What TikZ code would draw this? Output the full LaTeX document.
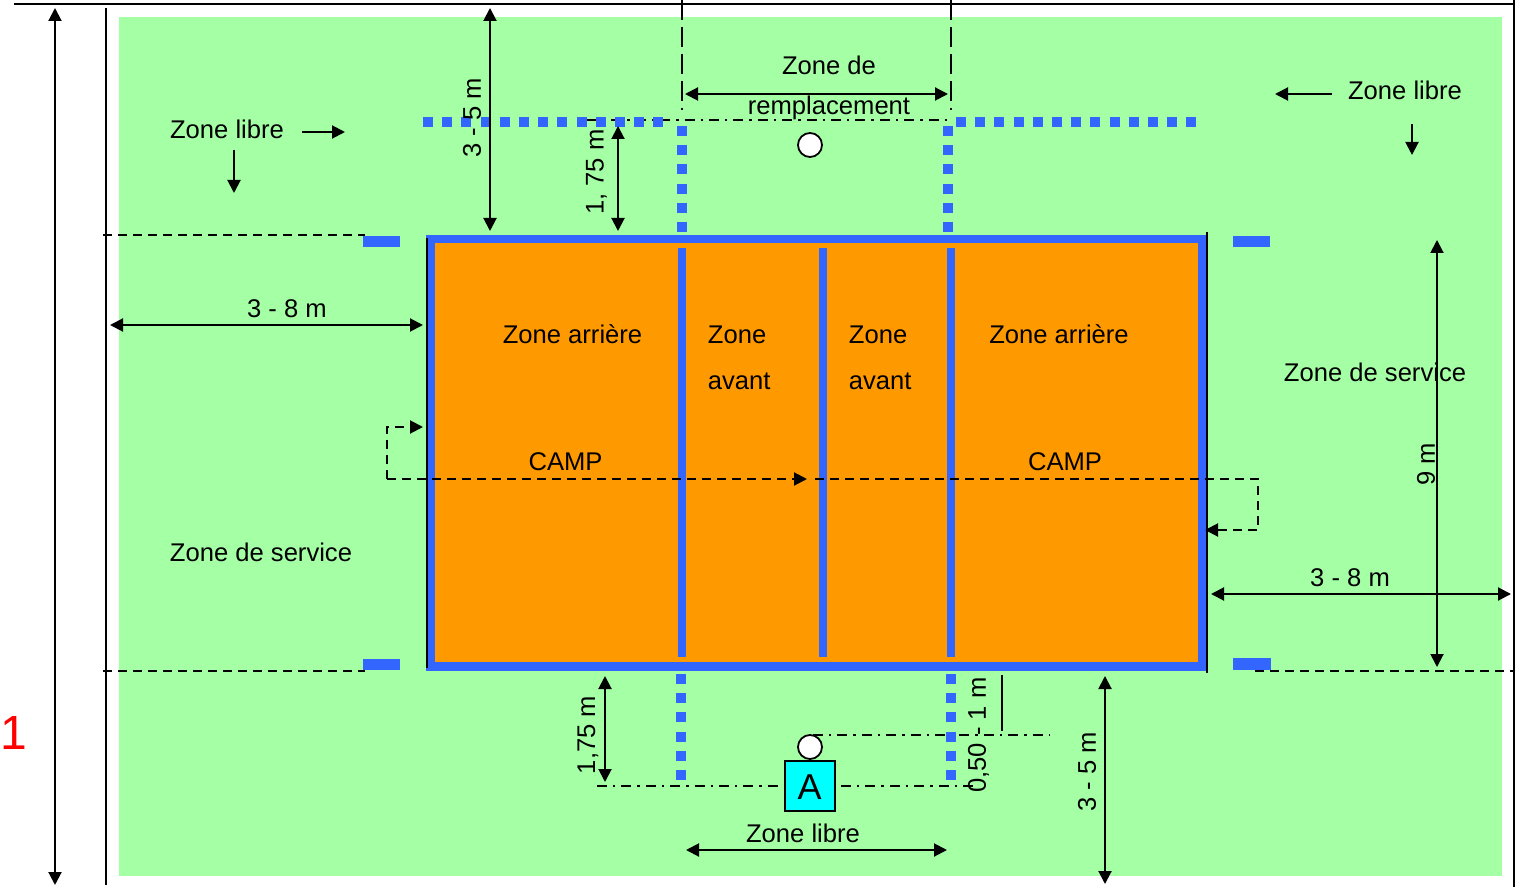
\documentclass[tikz,border=0pt]{standalone}
\usepackage{fontspec}
\setmainfont{Liberation Sans}
\usetikzlibrary{arrows.meta}
\definecolor{fieldgreen}{HTML}{A5FFA5}
\definecolor{courtorange}{HTML}{FF9900}
\definecolor{lineblue}{HTML}{3366FF}
\definecolor{boxcyan}{HTML}{00FFFF}
\tikzset{
  x=0.5pt,y=-0.5pt,
  lab/.style={inner sep=0pt,font=\fontsize{12.8pt}{14pt}\selectfont,text=black},
  rotlab/.style={lab,rotate=90},
  thinline/.style={draw=black,line width=1pt},
  dim/.style={thinline,{Triangle[length=6.5pt,width=6.5pt]}-{Triangle[length=6.5pt,width=6.5pt]}},
  single/.style={thinline,-{Triangle[length=6.5pt,width=6.5pt]}},
  dashline/.style={draw=black,line width=1pt,dash pattern=on 4.5pt off 3pt},
  dashlong/.style={draw=black,line width=1pt,dash pattern=on 10pt off 3.5pt},
  dashdot/.style={draw=black,line width=1pt,dash pattern=on 5pt off 3pt on 1.2pt off 3pt},
  dotted blue/.style={draw=lineblue,line width=5pt,dash pattern=on 5pt off 4.6pt},
  bluebar/.style={draw=none,fill=lineblue},
  bluerule/.style={draw=lineblue,line width=4pt},
  ball/.style={circle,draw=black,fill=white,line width=0.9pt,minimum size=12pt,inner sep=0pt},
}
\begin{document}
\begin{tikzpicture}
\useasboundingbox (0,0) rectangle (1515,887);
% coordinates
\foreach \n/\x/\y in {
 tl/14/4, tr/1515/4, ll1/106/8, ll2/106/885, rl1/1514/0, rl2/1514/887,
 ha/55/8, hb/55/885,
 nwd/103/235, nwe/365/235, swd/103/670.5, swe/365/670.5, sed/1255/670.5, see/1515/670.5,
 rzl/682/0, rzlb/682/110, rzr/951/0, rzrb/951/110,
 rza/685/94, rzb/948/94,
 tda/587/120, tdb/952/120,
 ua/490/8, ub/490/231, va/618/126, vb/618/231,
 zla/302/132, zlb/345/132, zlc/234/150, zld/234/193,
 zra/1332/94, zrb/1275/94, zrc/1412/124, zrd/1412/155,
 wa/110/325, wb/423/325, ea/1211/594, eb/1511/594,
 na/1437/240, nb/1437/667,
 pa/423/427, pb/387/427, pc/387/479, pd/807/479,
 qa/815/479, qb/1258/479, qc/1258/530, qd/1205/530,
 sa/605/676, sb/605/782, ma/1105/676, mb/1105/884,
 ka/1002/675, kb/1002/731,
 da/597/785.5, db/975/785.5, ea2/813/734.5, eb2/1050/734.5,
 fa/686/850, fb/947/850,
 lblk1/427/238, lblk2/427/668, rblk1/1207/232, rblk2/1207/673,
 c1/682/248, c1b/682/657, c2/823/248, c2b/823/657, c3/951/248, c3b/951/657,
 d1a/423/122.5, d1b/664/122.5, d2a/956/122.5, d2b/1197/122.5,
 d3a/682/126, d3b/682/233, d4a/948/126, d4b/948/233,
 d5a/681/674, d5b/681/781, d6a/951/674, d6b/951/781,
 fie1/119/17, fie2/1502/876, crt1/430.5/239.25, crt2/1202/666.5}
 {\coordinate (\n) at (\x,\y);}
% field and court
\path[fill=fieldgreen] (fie1) rectangle (fie2);
\path[fill=courtorange,draw=lineblue,line width=4.25pt] (crt1) rectangle (crt2);
% inner lines
\draw[bluerule] (c1) -- (c1b);
\draw[bluerule] (c2) -- (c2b);
\draw[bluerule] (c3) -- (c3b);
% blue bars
\node[bluebar,minimum width=18.5pt,minimum height=5.5pt,inner sep=0pt] (bar1) at (381.5,241.5) {};
\node[bluebar,minimum width=18.5pt,minimum height=5.5pt,inner sep=0pt] (bar2) at (1251.5,241.5) {};
\node[bluebar,minimum width=18.5pt,minimum height=5.5pt,inner sep=0pt] (bar3) at (381.5,664.5) {};
\node[bluebar,minimum width=19pt,minimum height=6pt,inner sep=0pt] (bar4) at (1252,664) {};
% dashed extents
\draw[dashline] (nwd) -- (nwe);
\draw[dashline] (swd) -- (swe);
\draw[dashline] (sed) -- (see);
\draw[dashlong] (rzl) -- (rzlb);
\draw[dashlong] (rzr) -- (rzrb);
% dash-dot lines
\draw[dashdot] (tda) -- (tdb);
\draw[dashdot] (da) -- (db);
\draw[dashdot] (ea2) -- (eb2);
% dotted blue
\draw[dotted blue] (d1a) -- (d1b);
\draw[dotted blue] (d2a) -- (d2b);
\draw[dotted blue] (d3a) -- (d3b);
\draw[dotted blue] (d4a) -- (d4b);
\draw[dotted blue] (d5a) -- (d5b);
\draw[dotted blue] (d6a) -- (d6b);
% frame lines
\draw[thinline] (tl) -- (tr);
\draw[thinline] (ll1) -- (ll2);
\draw[thinline] (rl1) -- (rl2);
\draw[thinline,line width=1.2pt] (lblk1) -- (lblk2);
\draw[thinline] (rblk1) -- (rblk2);
\draw[thinline] (ka) -- (kb);
% dimensions
\draw[dim] (ha) -- (hb);
\draw[dim] (rza) -- (rzb);
\draw[dim] (ua) -- (ub);
\draw[dim] (va) -- (vb);
\draw[dim] (wa) -- (wb);
\draw[dim] (ea) -- (eb);
\draw[dim] (na) -- (nb);
\draw[dim] (sa) -- (sb);
\draw[dim] (ma) -- (mb);
\draw[dim] (fa) -- (fb);
\draw[single] (zla) -- (zlb);
\draw[single] (zlc) -- (zld);
\draw[single] (zra) -- (zrb);
\draw[single] (zrc) -- (zrd);
\draw[dashline,-{Triangle[length=6.5pt,width=6.5pt]}] (pc) -- (pd);
\draw[dashline,-{Triangle[length=6.5pt,width=6.5pt]}] (pc) -- (pb) -- (pa);
\draw[dashline,-{Triangle[length=6.5pt,width=6.5pt]}] (qa) -- (qb) -- (qc) -- (qd);
% balls, A
\node[ball] (b1) at (810,145) {};
\node[ball] (b2) at (810,747) {};
\node[draw=black,fill=boxcyan,line width=0.9pt,minimum size=25pt,inner sep=0pt] (A) at (810,786) {};
\node[inner sep=0pt,font=\fontsize{18pt}{20pt}\selectfont] (Atext) at (809.5,787) {A};
% labels
\node[inner sep=0pt,text=red,font=\fontsize{24pt}{26pt}\selectfont] (one) at (14,733) {1};
\node[lab] (t1) at (829,65) {Zone de};
\node[lab] (t2) at (829,108) {remplacement};
\node[lab] (t3) at (227,129) {Zone libre};
\node[lab] (t4) at (1405,90) {Zone libre};
\node[lab] (t5) at (803,833) {Zone libre};
\node[lab] (t6) at (572.5,334) {Zone arrière};
\node[lab] (t7) at (1059,334) {Zone arrière};
\node[lab,anchor=west] (t8) at (707.5,334.5) {Zone};
\node[lab,anchor=west] (t9) at (707.5,381) {avant};
\node[lab,anchor=west] (t10) at (848.5,334.5) {Zone};
\node[lab,anchor=west] (t11) at (848.5,381) {avant};
\node[lab] (t12) at (565.5,462) {CAMP};
\node[lab] (t13) at (1065,462) {CAMP};
\node[lab] (t14) at (261,552) {Zone de service};
\node[lab] (t15) at (1375,372) {Zone de service};
\node[lab] (t16) at (287,309) {3 - 8 m};
\node[lab] (t17) at (1350,578) {3 - 8 m};
\node[rotlab] (r1) at (472,118) {3 - 5 m};
\node[rotlab] (r2) at (596.5,172) {1, 75 m};
\node[rotlab] (r3) at (1426,464) {9 m};
\node[rotlab] (r4) at (588,735) {1,75 m};
\node[rotlab] (r5) at (978.5,735) {0,50 - 1 m};
\node[rotlab] (r6) at (1087,772) {3 - 5 m};
\end{tikzpicture}
\end{document}
